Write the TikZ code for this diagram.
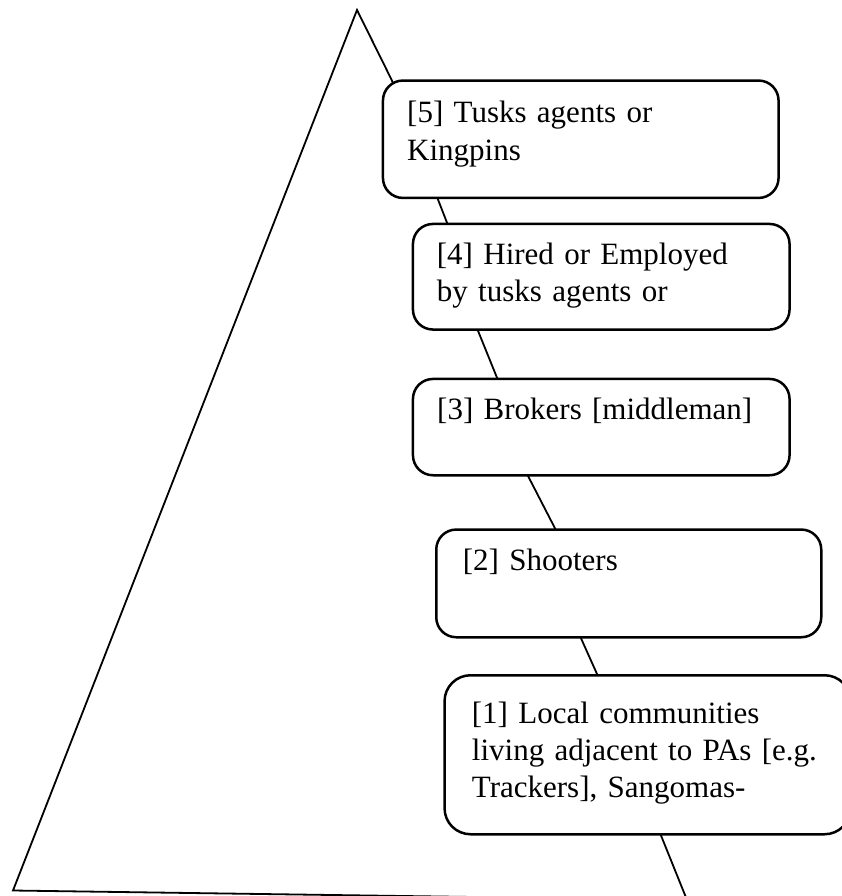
\documentclass[tikz,border=0pt]{standalone}
\usepackage{fontspec}
\setmainfont{Liberation Serif}
\begin{document}
\begin{tikzpicture}[x=1pt,y=-1pt,
  side/.style={line width=1.8pt, line join=miter},
  box/.style={draw, line width=2.5pt, fill=white, rounded corners=20pt,
    anchor=north west, inner sep=0pt},
  lbl/.style={anchor=base west, inner sep=0pt, text width=400pt, align=left,
    font=\fontsize{31}{37.3}\selectfont}]
\useasboundingbox (0,0) rectangle (842,896);
\begin{scope}
\clip (0,0) rectangle (842,896);
% corners and bends of the pyramid outline
\coordinate (apex) at (357,10);
\coordinate (bl) at (13,890.5);
\coordinate (br) at (687,900);
\draw[side] (bl) -- (apex) -- (391.7,80) -- (437,197) -- (447,222.7)
  -- (477,328.3) -- (497,377.7) -- (527,474) -- (555,528.3)
  -- (580,636) -- (597,674) -- (660,833) -- (br) -- cycle;
% tier boxes
\node[box, minimum width=395.6pt, minimum height=117.4pt] (b5) at (381.7,79.3) {};
\node[box, minimum width=376.6pt, minimum height=105.6pt] (b4) at (411.7,222.7) {};
\node[box, minimum width=376.6pt, minimum height=96.3pt] (b3) at (411.7,377.7) {};
\node[box, minimum width=385pt, minimum height=107.7pt] (b2) at (435,528.3) {};
\node[box, rounded corners=26pt, minimum width=406pt, minimum height=159pt] (b1) at (443.3,674) {};
\end{scope}
% tier labels
\node[lbl] (t5) at (407,123) {[5] Tusks agents or\\Kingpins};
\node[lbl] (t4) at (436.7,264) {[4] Hired or Employed\\by tusks agents or};
\node[lbl] (t3) at (437,419.3) {[3] Brokers [middleman]};
\node[lbl] (t2) at (462.7,570) {[2] Shooters};
\node[lbl] (t1) at (471.7,723) {[1] Local communities\\living adjacent to PAs [e.g.\\Trackers], Sangomas-};
\end{tikzpicture}
\end{document}
